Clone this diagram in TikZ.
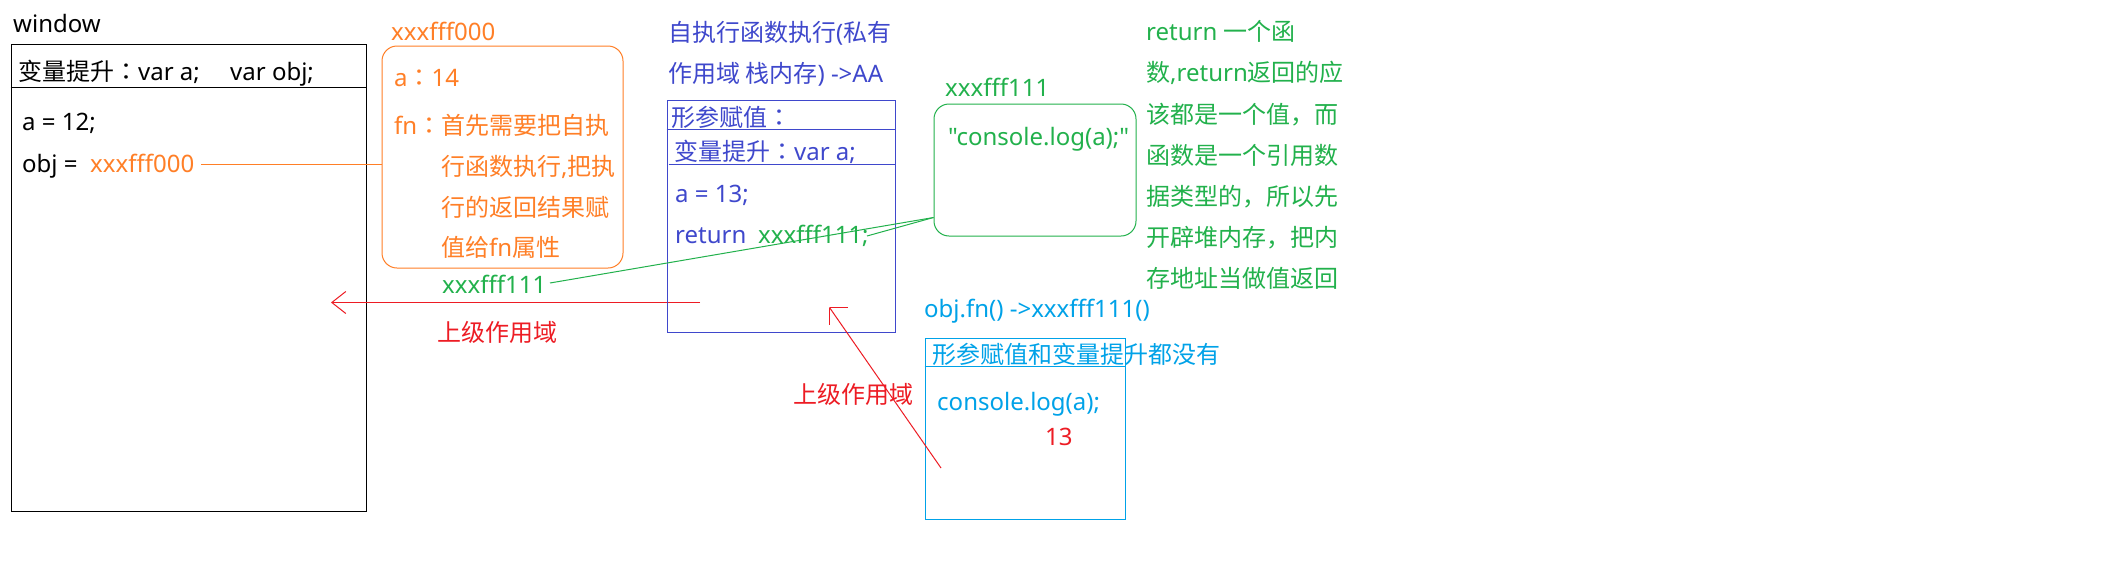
\documentclass[tikz,border=0pt]{standalone}
\usepackage{fontspec}
\setmainfont{Noto Sans}
\newfontfamily\plainsans{Noto Sans}
\newfontfamily\cjk{Noto Sans CJK SC}
\newfontfamily\cjktc{Noto Sans CJK TC}
\usetikzlibrary{arrows.meta,calc}
\newcommand{\C}[1]{{\cjk #1}}
\newcommand{\fc}{{\cjktc ：}}
\definecolor{porange}{HTML}{FF7F27}
\definecolor{pgreen}{HTML}{22B14C}
\definecolor{pred}{HTML}{ED1C24}
\definecolor{pblue}{HTML}{3F48CC}
\definecolor{pcyan}{HTML}{00A2E8}
\begin{document}
\begin{tikzpicture}[x=1pt,y=-1pt,
  txt/.style={anchor=base west, inner sep=0pt, font=\fontsize{24}{30}\selectfont},
  box/.style={draw, line width=1pt, anchor=north west, inner sep=0pt},
  conn/.style={line width=1pt},
  redarrow/.style={line width=1pt, draw=pred, -{Straight Barb[length=14pt,width=22pt,line width=1pt]}}]
\fill[white] (0,0) rectangle (2104,560);
\useasboundingbox (0,0) rectangle (2104,560);

% ---------- window ----------
\node[txt] (wlabel) at (13,32) {window};
\node[box, minimum width=355pt, minimum height=467pt] (win) at (10.5,43.5) {};
\draw[conn] (win.west |- 0,87.5) -- (win.east |- 0,87.5);
\node[txt] (hdr1) at (18,80) {\C{变量提升}\fc var a;};
\node[txt] (hdr2) at (230,80) {var obj;};
\node[txt] (a12) at (22,130) {a = 12;};
\node[txt] (objeq) at (22,172) {obj =};
\node[txt, text=porange] (x000) at (90,172) {xxxfff000};

% ---------- orange heap object ----------
\node[txt, text=porange] (olabel) at (391,40) {xxxfff000};
\node[box, draw=porange, rounded corners=15pt, minimum width=241pt, minimum height=222pt] (obox) at (381.5,45.5) {};
\node[txt, text=porange] (oa) at (394,86) {a\fc 14};
\node[txt, text=porange] (ofn1) at (394,134) {fn\fc\C{首先需要把自执}};
\node[txt, text=porange] (ofn2) at (441,175) {\C{行函数执行},\C{把执}};
\node[txt, text=porange] (ofn3) at (441,216) {\C{行的返回结果赋}};
\node[txt, text=porange] (ofn4) at (441,256) {\C{值给}fn\C{属性}};
\coordinate (ostart) at (201,164.5);
\draw[conn, draw=porange] (ostart) -- (obox.west |- ostart);

% ---------- green below orange ----------
\node[txt, text=pgreen] (g111) at (442,293) {xxxfff111};
\node[txt, text=pred] (up1) at (437,341) {\C{上级作用域}};
\coordinate (r1s) at (700,302.5);
\coordinate (r1e) at (331,302.5);
\draw[redarrow] (r1s) -- (r1e);

% ---------- blue private scope ----------
\node[txt, text=pblue] (bt1) at (668,41) {\C{自执行函数执行}(\C{私有}};
\node[txt, text=pblue] (bt2) at (668,82) {\C{作用域 栈内存}) ->AA};
\node[box, draw=pblue, minimum width=228pt, minimum height=232pt] (bbox) at (666.5,99.5) {};
\draw[conn, draw=pblue] (bbox.west |- 0,129.5) -- ([xshift=-1pt]bbox.east |- 0,129.5);
\draw[conn, draw=pblue] ([xshift=2pt]bbox.west |- 0,164.5) -- ([xshift=-1pt]bbox.east |- 0,164.5);
\node[txt, text=pblue] (bparam) at (671,126) {\C{形参赋值}\fc};
\node[txt, text=pblue] (bhoist) at (674,160) {\C{变量提升}\fc var a;};
\node[txt, text=pblue] (ba13) at (675,202) {a = 13;};
\node[txt, text=pblue] (bret) at (675,243) {return};
\node[txt, text=pgreen] (bret111) at (758,243) {xxxfff111;};

% ---------- green function heap ----------
\node[txt, text=pgreen] (glabel) at (945,96) {xxxfff111};
\node[box, draw=pgreen, rounded corners=15pt, minimum width=202pt, minimum height=132pt] (gbox) at (933.5,103.5) {};
\node[txt, text=pgreen] (gcode) at (948,145) {\plainsans "console.log(a);"};
\coordinate (gin) at ($(gbox.south west)+(0,-19)$);
\coordinate (g1s) at (550,283);
\coordinate (g2s) at (867,236);
\draw[conn, draw=pgreen] (g1s) -- (gin);
\draw[conn, draw=pgreen] (g2s) -- (gin);

% ---------- green explanation ----------
\node[txt, text=pgreen] (e1) at (1146,40) {return \C{一个函}};
\node[txt, text=pgreen] (e2) at (1146,81) {\C{数},return\C{返回的应}};
\node[txt, text=pgreen] (e3) at (1146,123) {\C{该都是一个值，而}};
\node[txt, text=pgreen] (e4) at (1146,164) {\C{函数是一个引用数}};
\node[txt, text=pgreen] (e5) at (1146,205) {\C{据类型的，所以先}};
\node[txt, text=pgreen] (e6) at (1146,246) {\C{开辟堆内存，把内}};
\node[txt, text=pgreen] (e7) at (1146,287) {\C{存地址当做值返回}};

% ---------- cyan call ----------
\node[txt, text=pcyan] (ccall) at (924,317) {obj.fn() ->xxxfff111()};
\node[box, draw=pcyan, minimum width=200pt, minimum height=181pt] (cbox) at (924.5,337.5) {};
\draw[conn, draw=pcyan] (cbox.west |- 0,366.5) -- (cbox.east |- 0,366.5);
\node[txt, text=pcyan] (cnone) at (932,363) {\C{形参赋值和变量提升都没有}};
\node[txt, text=pcyan] (clog) at (937,410) {console.log(a);};
\node[txt, text=pred] (c13) at (1045,445) {13};

% ---------- red diagonal ----------
\node[txt, text=pred] (up2) at (793,403) {\C{上级作用域}};
\coordinate (r2s) at (941,468);
\coordinate (r2e) at (829.5,307.5);
\draw[conn, draw=pred] (r2s) -- (r2e);
\draw[conn, draw=pred] (r2e) -- ++(18,0);
\draw[conn, draw=pred] (r2e) -- ++(0,17);
\end{tikzpicture}
\end{document}
